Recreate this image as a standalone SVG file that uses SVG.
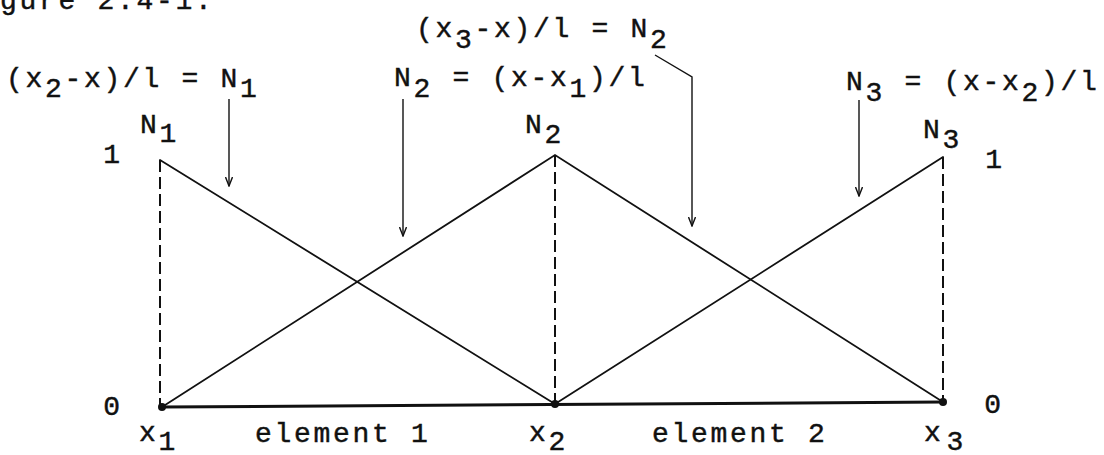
<svg xmlns="http://www.w3.org/2000/svg" width="1104" height="455" viewBox="0 0 1104 455">
<style>
  text { font-family: "Liberation Mono", "DejaVu Sans Mono", monospace; font-size: 28px; letter-spacing: 2.7px; fill: #111; stroke: #111; stroke-width: 0.45; }
  .shape { stroke: #111; stroke-width: 1.8; fill: none; stroke-linecap: round; }
  .dash { stroke: #111; stroke-width: 2; stroke-dasharray: 12 5; fill: none; }
  .base { stroke: #111; stroke-width: 3; fill: none; }
  .lead { stroke: #111; stroke-width: 1.4; fill: none; }
  .dot { fill: #111; }
</style>
<defs>
  <marker id="ah" markerWidth="10" markerHeight="8" refX="9" refY="4" orient="auto" markerUnits="userSpaceOnUse">
    <path d="M0,0.5 L9,4 L0,7.5" fill="none" stroke="#111" stroke-width="1.4"/>
  </marker>
</defs>
<rect width="1104" height="455" fill="#fff"/>

<text id="caption" x="0" y="9">gure 2.4-1.</text>

<g id="connectors">
  <line class="lead" x1="229" y1="99" x2="229" y2="186" marker-end="url(#ah)"/>
  <line class="lead" x1="403" y1="99" x2="403" y2="236" marker-end="url(#ah)"/>
  <polyline class="lead" points="655,55 692,77 692,226" marker-end="url(#ah)"/>
  <line class="lead" x1="859" y1="100" x2="859" y2="196" marker-end="url(#ah)"/>
</g>

<g id="axis">
  <line class="base" x1="162" y1="407" x2="943" y2="402"/>
  <line class="dash" x1="160" y1="160" x2="160" y2="405"/>
  <line class="dash" x1="555" y1="155" x2="555" y2="402"/>
  <line class="dash" x1="943" y1="157" x2="943" y2="400"/>
</g>

<g id="shape-functions">
  <polyline class="shape" points="160,160 555,404"/>
  <polyline class="shape" points="162,407 555,155 943,402"/>
  <polyline class="shape" points="555,404 943,157"/>
</g>

<g id="node-x1">
  <circle class="dot" cx="162" cy="407" r="4"/>
  <text x="139" y="441">x<tspan dy="9">1</tspan></text>
</g>
<g id="node-x2">
  <circle class="dot" cx="555" cy="404" r="4"/>
  <text x="529" y="441">x<tspan dy="9">2</tspan></text>
</g>
<g id="node-x3">
  <circle class="dot" cx="943" cy="402" r="4"/>
  <text x="924" y="441">x<tspan dy="9" dx="3">3</tspan></text>
</g>

<g id="element-labels">
  <text x="255" y="442">element 1</text>
  <text x="652" y="442">element 2</text>
</g>

<g id="axis-values">
  <text x="113" y="163" text-anchor="middle">1</text>
  <text x="995" y="168" text-anchor="middle">1</text>
  <text x="113" y="415" text-anchor="middle">0</text>
  <text x="994" y="413" text-anchor="middle">0</text>
</g>

<g id="peak-labels">
  <text x="140" y="133">N<tspan dy="9">1</tspan></text>
  <text x="525" y="133">N<tspan dy="10">2</tspan></text>
  <text x="923" y="138">N<tspan dy="10">3</tspan></text>
</g>

<g id="formulas">
  <text x="6" y="87">(x<tspan dy="10">2</tspan><tspan dy="-10">-x)/l = N</tspan><tspan dy="10">1</tspan></text>
  <text x="416" y="37">(x<tspan dy="11">3</tspan><tspan dy="-11">-x)/l = N</tspan><tspan dy="11">2</tspan></text>
  <text x="394" y="86">N<tspan dy="11">2</tspan><tspan dy="-11"> = (x-x</tspan><tspan dy="11">1</tspan><tspan dy="-11">)/l</tspan></text>
  <text x="846" y="90">N<tspan dy="11">3</tspan><tspan dy="-11"> = (x-x</tspan><tspan dy="11">2</tspan><tspan dy="-11">)/l</tspan></text>
</g>
</svg>
